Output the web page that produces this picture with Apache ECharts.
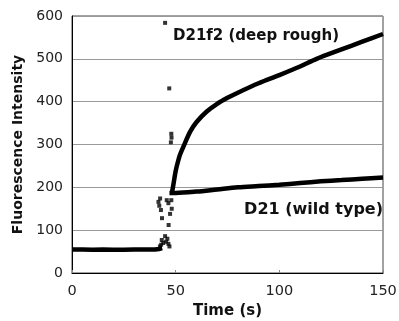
<!DOCTYPE html>
<html>
<head>
<meta charset="utf-8">
<script src="https://cdn.jsdelivr.net/npm/echarts@6/dist/echarts.min.js"></script>
<style>html,body{margin:0;padding:0;background:#fff;}#c{width:399px;height:321px;}</style>
</head>
<body>
<div id="c"></div>
<script>
// Baseline before injection (both samples)
const baseT = [0, 5, 10, 15, 20, 25, 30, 35, 40, 42, 43.5];
const baseV = [55, 55, 54, 55, 54, 54, 55, 55, 55, 56, 58];
// Scattered transition points
const transT = [44.9, 46.9, 47.9, 48.0, 47.7, 41.7, 42.1, 42.5, 42.9, 43.4, 45.7, 46.5, 46.6, 47.3, 47.9, 48.1, 43.3, 44.9, 45.4, 46.0, 46.5, 47.0, 42.4, 43.0, 44.0];
const transV = [584, 431, 325, 316, 305, 166, 157, 174, 147, 128, 170, 163, 112, 138, 170, 150, 77, 86, 73, 80, 68, 62, 62, 66, 70];
// D21f2 (deep rough)
const roughT = [48.3, 49, 50, 51, 52, 54, 57, 60, 65, 70, 75, 80, 90, 100, 110, 118, 130, 140, 150];
const roughV = [190, 209, 238, 258, 275, 298, 330, 352, 377, 395, 409, 421, 443, 462, 482, 500, 522, 540, 558];
// D21 (wild type)
const wildT = [47, 50, 60, 70, 80, 90, 100, 110, 120, 130, 140, 150];
const wildV = [187, 187, 190, 195, 200, 203, 206, 210, 214, 217, 220, 223];

const zip = (a, b) => a.map((x, i) => [x, b[i]]);
const chart = echarts.init(document.getElementById('c'), null, {renderer: 'canvas'});
const lineStyle = {color: '#000', width: 4.5};
chart.setOption({
  animation: false,
  backgroundColor: '#fff',
  grid: {left: 72, right: 16, top: 16, bottom: 48, containLabel: false, outerBoundsMode: 'none', show: true, borderColor: '#444', borderWidth: 1, backgroundColor: 'transparent'},
  xAxis: {
    type: 'value', min: 0, max: 150, interval: 50,
    name: 'Time (s)', nameLocation: 'middle', nameGap: 31,
    nameTextStyle: {fontFamily: 'DejaVu Sans', fontWeight: 'bold', fontSize: 15, color: '#111'},
    axisLine: {show: true, onZero: false, lineStyle: {color: '#000', width: 1}},
    axisTick: {show: true, inside: true, length: 3, lineStyle: {color: '#888'}},
    axisLabel: {margin: 11, fontFamily: 'DejaVu Sans', fontSize: 14.5, color: '#222'},
    splitLine: {show: false}
  },
  yAxis: {
    type: 'value', min: 0, max: 600, interval: 100,
    name: 'Fluorescence Intensity', nameLocation: 'middle', nameGap: 42,
    nameTextStyle: {fontFamily: 'DejaVu Sans', fontWeight: 'bold', fontSize: 14, color: '#111'},
    axisLine: {show: true, lineStyle: {color: '#000', width: 1}},
    axisTick: {show: false},
    axisLabel: {margin: 9, fontFamily: 'DejaVu Sans', fontSize: 14, color: '#222'},
    splitLine: {show: true, lineStyle: {color: '#999', width: 1}}
  },
  series: [
    {type: 'line', data: zip(baseT, baseV), symbol: 'none', lineStyle: lineStyle, z: 3},
    {type: 'line', data: zip(roughT, roughV), symbol: 'none', smooth: 0.3, lineStyle: lineStyle, z: 3},
    {type: 'line', data: zip(wildT, wildV), symbol: 'none', smooth: 0.3, lineStyle: lineStyle, z: 3},
    {type: 'scatter', data: zip(transT, transV), symbol: 'rect', symbolSize: 4, itemStyle: {color: '#000'}, z: 4}
  ],
  graphic: [
    {type: 'text', left: 173, top: 29, style: {text: 'D21f2 (deep rough)', font: 'bold 15px "DejaVu Sans"', fill: '#111'}, z: 10},
    {type: 'text', right: 16, top: 202, style: {text: 'D21 (wild type)', font: 'bold 16px "DejaVu Sans"', fill: '#111'}, z: 10}
  ]
});
</script>
</body>
</html>
